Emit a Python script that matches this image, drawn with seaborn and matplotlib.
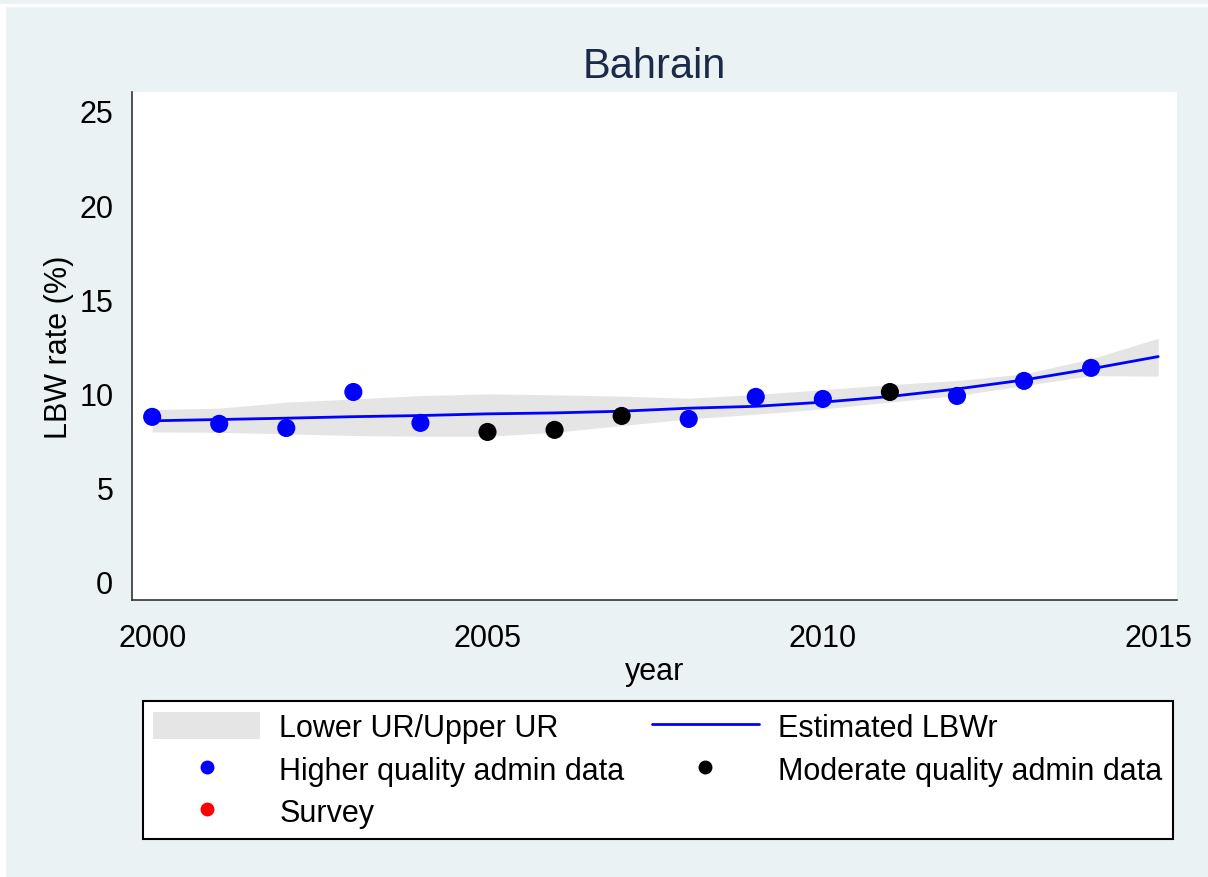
import numpy as np
import pandas as pd
import seaborn as sns
import matplotlib.pyplot as plt
from matplotlib.patches import Patch, Rectangle
from matplotlib.lines import Line2D

# Observed LBW rates
years_high = [2000, 2001, 2002, 2003, 2004, 2008, 2009, 2010, 2012, 2013, 2014]
rate_high = [8.76, 8.39, 8.17, 10.08, 8.44, 8.65, 9.82, 9.71, 9.87, 10.67, 11.36]
years_mod = [2005, 2006, 2007, 2011]
rate_mod = [7.96, 8.07, 8.81, 10.08]

# Model estimate with uncertainty range
est_years = list(range(2000, 2016))
est_rate = [8.55, 8.62, 8.69, 8.77, 8.83, 8.92, 8.97, 9.06, 9.22, 9.32, 9.54, 9.84, 10.24, 10.72, 11.31, 11.96]
lower_ur = [7.96, 7.94, 7.86, 7.77, 7.73, 7.73, 7.94, 8.30, 8.65, 8.90, 9.18, 9.55, 9.89, 10.42, 10.95, 10.92]
upper_ur = [9.15, 9.22, 9.54, 9.71, 9.89, 9.98, 9.93, 9.86, 9.75, 9.95, 10.20, 10.47, 10.69, 11.04, 11.84, 12.93]

obs = pd.DataFrame({
    'year': years_high + years_mod,
    'rate': rate_high + rate_mod,
    'source': ['Higher quality admin data'] * len(years_high) + ['Moderate quality admin data'] * len(years_mod),
})
est = pd.DataFrame({'year': est_years, 'rate': est_rate, 'lo': lower_ur, 'hi': upper_ur})

sns.set_style('white')
plt.rcParams['font.family'] = ['Liberation Sans', 'DejaVu Sans']
plt.rcParams['text.color'] = 'black'
plt.rcParams['axes.labelcolor'] = 'black'

bg = '#EAF2F3'
fig = plt.figure(figsize=(12.08, 8.78), dpi=100, facecolor=bg)
# white frame strips of the original export
fig.add_artist(Rectangle((0, 1 - 7 / 878), 1, 2.5 / 878, transform=fig.transFigure, color='white', zorder=0))
fig.add_artist(Rectangle((0, 0), 5 / 1208, 1 - 7 / 878, transform=fig.transFigure, color='white', zorder=0))

ax = fig.add_axes([0.1093, 0.3155, 0.865, 0.5785])
ax.set_facecolor('white')

ax.fill_between(est['year'], est['lo'], est['hi'], color='#E5E5E5', linewidth=0, zorder=1)
sns.lineplot(data=est, x='year', y='rate', ax=ax, color='#0000FF', linewidth=2, zorder=2)
sns.scatterplot(data=obs, x='year', y='rate', hue='source', ax=ax, s=170,
                palette={'Higher quality admin data': '#0000FF', 'Moderate quality admin data': 'black'},
                edgecolor='none', legend=False, zorder=3)

ax.set_xlim(1999.70, 2015.28)
ax.set_ylim(-0.96, 26.0)
ax.set_xticks([2000, 2005, 2010, 2015])
ax.set_yticks([0, 5, 10, 15, 20, 25])
ax.tick_params(axis='both', labelsize=22, length=8.5, width=1.2, color='#333333',
               labelcolor='black', direction='out')
ax.tick_params(axis='y', pad=5)
ax.tick_params(axis='x', pad=8)
for s in ['top', 'right']:
    ax.spines[s].set_visible(False)
for s in ['left', 'bottom']:
    ax.spines[s].set_color('#333333')
    ax.spines[s].set_linewidth(1.2)

ax.set_xlabel('year', fontsize=22, labelpad=2)
ax.set_ylabel('LBW rate (%)', fontsize=22, labelpad=4)
ax.set_title('Bahrain', fontsize=30, color='#1C2A4A', pad=11)

handles = [
    Patch(facecolor='#E5E5E5', edgecolor='none'),
    Line2D([], [], marker='o', linestyle='none', color='#0000FF', markersize=9),
    Line2D([], [], marker='o', linestyle='none', color='red', markersize=9),
    Line2D([], [], color='#0000FF', linewidth=2),
    Line2D([], [], marker='o', linestyle='none', color='black', markersize=9),
]
labels = ['Lower UR/Upper UR', 'Higher quality admin data', 'Survey',
          'Estimated LBWr', 'Moderate quality admin data']
leg = fig.legend(handles, labels, ncol=2, loc='upper left', bbox_to_anchor=(0.118, 1 - 702 / 878),
                 frameon=True, fancybox=False, framealpha=1, fontsize=22, handlelength=3.5,
                 handleheight=1.0, handletextpad=0.62, columnspacing=0.9,
                 labelspacing=0.38, borderpad=0.35, borderaxespad=0)
leg.get_frame().set_edgecolor('black')
leg.get_frame().set_facecolor('white')
leg.get_frame().set_linewidth(1.5)

fig.savefig('out.png', dpi=100, facecolor=bg)
